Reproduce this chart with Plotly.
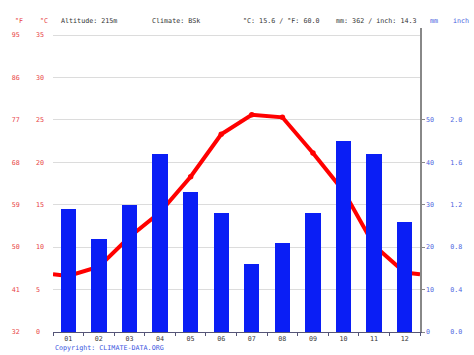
import plotly.graph_objects as go

months = ["01", "02", "03", "04", "05", "06", "07", "08", "09", "10", "11", "12"]
precip_mm = [29, 22, 30, 42, 33, 28, 16, 21, 28, 45, 42, 26]
temp_c = [6.6, 7.7, 11.2, 14.1, 18.3, 23.3, 25.6, 25.3, 21.1, 16.6, 10.2, 7.0]
edge_temp_c = 6.8  # value of the line at the left/right plot edges

temp_ticks_c = [0, 5, 10, 15, 20, 25, 30, 35]
temp_ticks_f = ["32", "41", "50", "59", "68", "77", "86", "95"]
precip_ticks_mm = [0, 10, 20, 30, 40, 50]
precip_ticks_inch = ["0.0", "0.4", "0.8", "1.2", "1.6", "2.0"]

header_items = [
    ("°F", "#e8413f"), ("°C", "#e8413f"),
    ("Altitude: 215m", "#333333"), ("Climate: BSk", "#333333"),
    ("°C: 15.6 / °F: 60.0", "#333333"), ("mm: 362 / inch: 14.3", "#333333"),
    ("mm", "#4a5fe0"), ("inch", "#4a5fe0"),
]
header_px = [12, 37, 58, 150, 242, 335, 430, 453]

FONT = "DejaVu Sans Mono"
FS = 6.7
RED_TXT = "#e8413f"
BLUE_TXT = "#4a5fe0"
NB = "\u00a0"

W, H = 474, 355
L, R, T, B = 52, 52, 28, 23
plot_w = W - L - R
plot_h = H - T - B
c_top = 35 + (35 - 28) / (297 / 35)  # range top so 35°C sits 7px below plot top

fig = go.Figure()

fig.add_trace(go.Bar(
    x=list(range(1, 13)), y=precip_mm, yaxis="y2",
    marker=dict(color="#0a1ef5", line=dict(width=0)),
    width=0.5, hoverinfo="skip",
))

line_x = [0.5] + list(range(1, 13)) + [12.5]
line_y = [edge_temp_c] + temp_c + [edge_temp_c]
fig.add_trace(go.Scatter(
    x=line_x, y=line_y, mode="lines", yaxis="y",
    line=dict(color="#ff0000", width=4), hoverinfo="skip",
))
fig.add_trace(go.Scatter(
    x=list(range(1, 13)), y=temp_c, mode="markers", yaxis="y",
    marker=dict(color="#ff0000", size=5.5), hoverinfo="skip",
))

left_text = [f + NB * (6 - len(f)) + str(c) + NB * (2 - len(str(c)))
             for f, c in zip(temp_ticks_f, temp_ticks_c)]
right_text = [str(m) + NB * (6 - len(str(m))) + i
              for m, i in zip(precip_ticks_mm, precip_ticks_inch)]

fig.update_layout(
    width=W, height=H,
    margin=dict(l=L, r=R, t=T, b=B, pad=0),
    paper_bgcolor="white", plot_bgcolor="white",
    showlegend=False,
    bargap=0,
    font=dict(family=FONT, size=FS, color="#333333"),
    xaxis=dict(
        range=[0.5, 12.5], tickmode="array", tickvals=list(range(1, 13)),
        ticktext=months, ticks="", showgrid=False, zeroline=False,
        showline=True, linecolor="#555577", linewidth=1.2,
        tickfont=dict(family=FONT, size=FS, color="#333333"),
        minor=dict(tickmode="array", tickvals=[i + 0.5 for i in range(0, 13)],
                   ticks="outside", ticklen=3, tickcolor="#555577", showgrid=False),
        fixedrange=True,
    ),
    yaxis=dict(
        range=[0, c_top], tickmode="array", tickvals=temp_ticks_c,
        ticktext=left_text, ticks="", showgrid=True, gridcolor="#dcdcdc",
        gridwidth=1, zeroline=False, showline=False,
        tickfont=dict(family=FONT, size=FS, color=RED_TXT),
        ticklabelstandoff=8, fixedrange=True,
    ),
    yaxis2=dict(
        range=[0, 2 * c_top], overlaying="y", side="right",
        tickmode="array", tickvals=precip_ticks_mm, ticktext=right_text,
        ticks="outside", ticklen=3, tickcolor="#888888",
        showgrid=False, zeroline=False, showline=True,
        linecolor="#888888", linewidth=1.5,
        tickfont=dict(family=FONT, size=FS, color=BLUE_TXT),
        fixedrange=True,
    ),
)

ann = []
for (txt, col), px in zip(header_items, header_px):
    ann.append(dict(
        text=txt, x=(px - L) / plot_w, y=1 + (T - 21) / plot_h,
        xref="paper", yref="paper", xanchor="left", yanchor="middle",
        showarrow=False, font=dict(family=FONT, size=FS, color=col),
    ))
ann.append(dict(
    text="Copyright: CLIMATE-DATA.ORG", x=0, y=-(348 - (H - B)) / plot_h,
    xref="paper", yref="paper", xanchor="left", yanchor="middle",
    showarrow=False, font=dict(family=FONT, size=FS, color="#3a55e0"),
))
fig.update_layout(annotations=ann)

fig.write_html(
    "out.html",
    config={"displayModeBar": False},
    post_script="document.body.style.margin='0';document.body.style.overflow='hidden';",
)
